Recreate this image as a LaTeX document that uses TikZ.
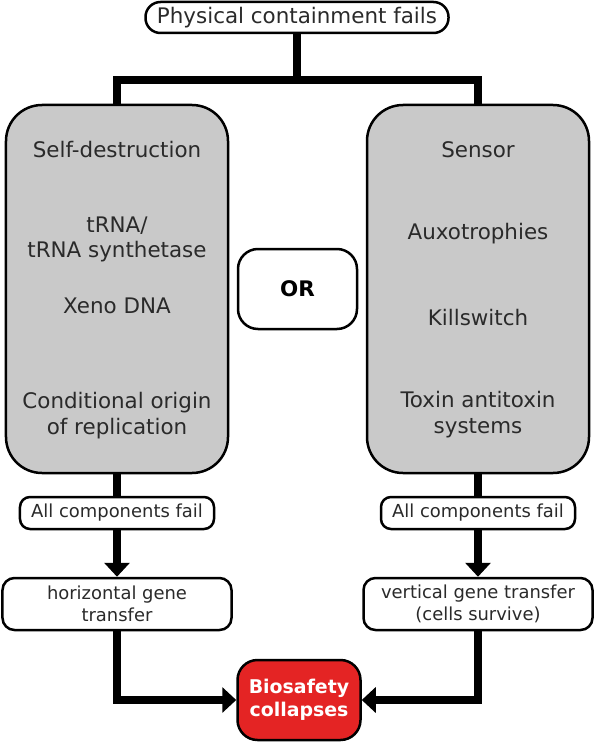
\documentclass[tikz,border=0pt]{standalone}
\usepackage{fontspec}
\setmainfont{DejaVu Sans}
\usetikzlibrary{arrows.meta}
\definecolor{boxgray}{HTML}{C9C9C9}
\definecolor{alarmred}{HTML}{E42424}
\definecolor{inkgray}{HTML}{2A2A2A}
\begin{document}
\begin{tikzpicture}[x=1bp,y=-1bp,
    bigtext/.style={font=\fontsize{21.5}{26}\selectfont, text=inkgray},
    smalltext/.style={font=\fontsize{18}{22}\selectfont, text=inkgray},
    roundbox/.style={draw, line width=2.5bp, fill=white, inner sep=0pt, align=center},
    graybox/.style={draw, line width=2.5bp, fill=boxgray, rounded corners=36bp,
        minimum width=222bp, minimum height=368bp},
    item/.style={bigtext, anchor=base, inner sep=0pt},
    conn/.style={line width=7.5bp, line join=miter},
    arrow/.style={conn, -{Triangle[length=14bp,width=25bp]}}]
    \useasboundingbox (0,0) rectangle (596,743);

    \node[roundbox, bigtext, rounded corners=15bp, minimum width=303bp, minimum height=31bp] (top) at (297,17.5) {Physical containment fails};
    \coordinate (split) at (297,80);

    \node[graybox] (lbox) at (117,289) {};
    \node[graybox] (rbox) at (478,289) {};
    \node[roundbox, rounded corners=20bp, minimum width=119bp, minimum height=80bp,
        font=\fontsize{21.5}{26}\selectfont\bfseries] (or) at (297.5,289) {OR};

    % left column
    \node[item] (selfd) at (117,157) {Self-destruction};
    \node[item] (trna) at (117,232) {tRNA/};
    \node[item] (trnas) at (117,257) {tRNA synthetase};
    \node[item] (xeno) at (117,313) {Xeno DNA};
    \node[item] (origin) at (117,408) {Conditional origin};
    \node[item] (repl) at (117,434) {of replication};

    % right column
    \node[item] (sensor) at (478,157) {Sensor};
    \node[item] (auxo) at (478,239) {Auxotrophies};
    \node[item] (kill) at (478,325) {Killswitch};
    \node[item] (toxin) at (478,407) {Toxin antitoxin};
    \node[item] (syst) at (478,433) {systems};

    \node[roundbox, smalltext, rounded corners=10bp, minimum width=194bp, minimum height=32bp] (lfail) at (117,513) {All components fail};
    \node[roundbox, smalltext, rounded corners=10bp, minimum width=194bp, minimum height=32bp] (rfail) at (478,513) {All components fail};

    \node[roundbox, smalltext, rounded corners=12bp, minimum width=229bp, minimum height=52bp] (hgt) at (117,604) {horizontal gene\\transfer};
    \node[roundbox, smalltext, rounded corners=12bp, minimum width=229bp, minimum height=52bp] (vgt) at (478,604) {vertical gene transfer\\(cells survive)};

    \node[roundbox, fill=alarmred, text=white, rounded corners=20bp, minimum width=123bp, minimum height=80bp,
        font=\fontsize{19}{23}\selectfont\bfseries] (bio) at (299,700) {Biosafety\\collapses};

    \draw[conn] (top.south) -- (split);
    \draw[conn] (lbox.north) |- (split) -| (rbox.north);
    \draw[conn] (lbox.south) -- (lfail.north);
    \draw[conn] (rbox.south) -- (rfail.north);
    \draw[arrow] (lfail.south) -- (hgt.north);
    \draw[arrow] (rfail.south) -- (vgt.north);
    \draw[arrow] (hgt.south) |- (bio.west);
    \draw[arrow] (vgt.south) |- (bio.east);
\end{tikzpicture}
\end{document}
